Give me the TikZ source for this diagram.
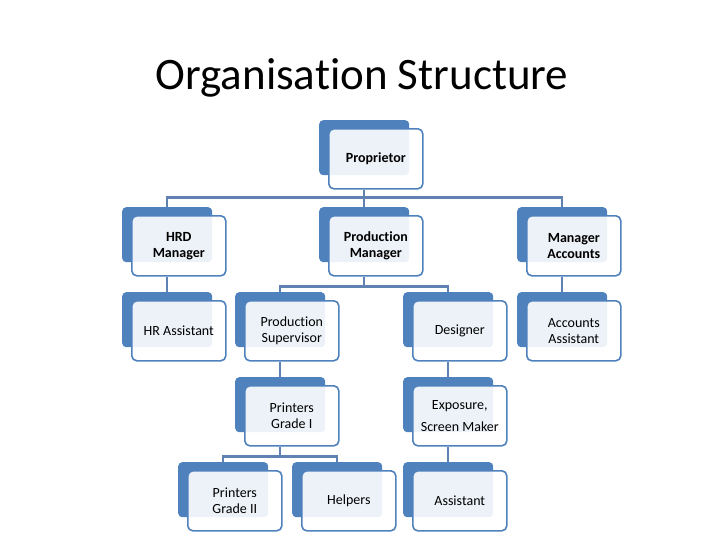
\documentclass[tikz,border=0pt]{standalone}
\usepackage{fontspec}
\setmainfont{Carlito}[Ligatures=NoCommon]
\usepackage{tikz}
\usetikzlibrary{calc,positioning}
\definecolor{boxc}{HTML}{4F81BD}
\definecolor{linec}{HTML}{5F82B2}
\tikzset{
  backbox/.style={rectangle,rounded corners=4pt,fill=boxc,minimum width=90pt,minimum height=55pt,inner sep=0pt},
  frontbox/.style={rectangle,rounded corners=5pt,draw=boxc,line width=1.6pt,fill=white,fill opacity=0.9,text opacity=1,
    minimum width=94pt,minimum height=60pt,inner sep=2pt,align=center,font=\fontsize{14}{16}\selectfont},
  link/.style={linec,line width=2.5pt}
}
% back box at (x,y) = top left, front box shifted right and down
\newcommand{\orgbox}[4]{%
  \node[backbox,anchor=north west] (#1b) at (#2,#3) {};
  \node[frontbox,anchor=north west] (#1) at (#2+9,#3+8) {#4};}

\begin{document}
\begin{tikzpicture}[x=1pt,y=-1pt]
\useasboundingbox (0,0) rectangle (728,546);
\node[anchor=base,font=\fontsize{45}{50}\selectfont] (title) at (362,89) {Organisation Structure};

% boxes
\orgbox{prop}{319}{120}{\bfseries Proprietor}
\orgbox{hrd}{122}{207}{\bfseries HRD\\\bfseries Manager}
\orgbox{pm}{319}{207}{\bfseries Production\\\bfseries Manager}
\orgbox{macc}{517}{207}{\bfseries Manager\\\bfseries Accounts}
\orgbox{hra}{122}{292}{HR Assistant}
\orgbox{ps}{235}{292}{Production\\Supervisor}
\orgbox{des}{403}{292}{Designer}
\orgbox{acca}{517}{292}{Accounts\\Assistant}
\orgbox{pgone}{235}{377}{Printers\\Grade I}
\orgbox{exp}{403}{377}{Exposure,\\[6pt]Screen Maker}
\orgbox{pgtwo}{178}{462}{Printers\\Grade II}
\orgbox{help}{292}{462}{Helpers}
\orgbox{asst}{403}{462}{Assistant}

% connectors
\foreach \c in {hrd,pm,macc}
  \draw[link] (prop.south -| propb) -- ++(0,8) -| (\c b.north);
\draw[link] (hrd.south -| hrdb) -- (hrab.north);
\draw[link] (macc.south -| maccb) -- (accab.north);
\foreach \c in {ps,des}
  \draw[link] (pm.south -| pmb) -- ++(0,10) -| (\c b.north);
\draw[link] (ps.south -| psb) -- (pgoneb.north);
\draw[link] (des.south -| desb) -- (expb.north);
\foreach \c in {pgtwo,help}
  \draw[link] (pgone.south -| pgoneb) -- ++(0,10) -| (\c b.north);
\draw[link] (exp.south -| expb) -- (asstb.north);
\end{tikzpicture}
\end{document}
